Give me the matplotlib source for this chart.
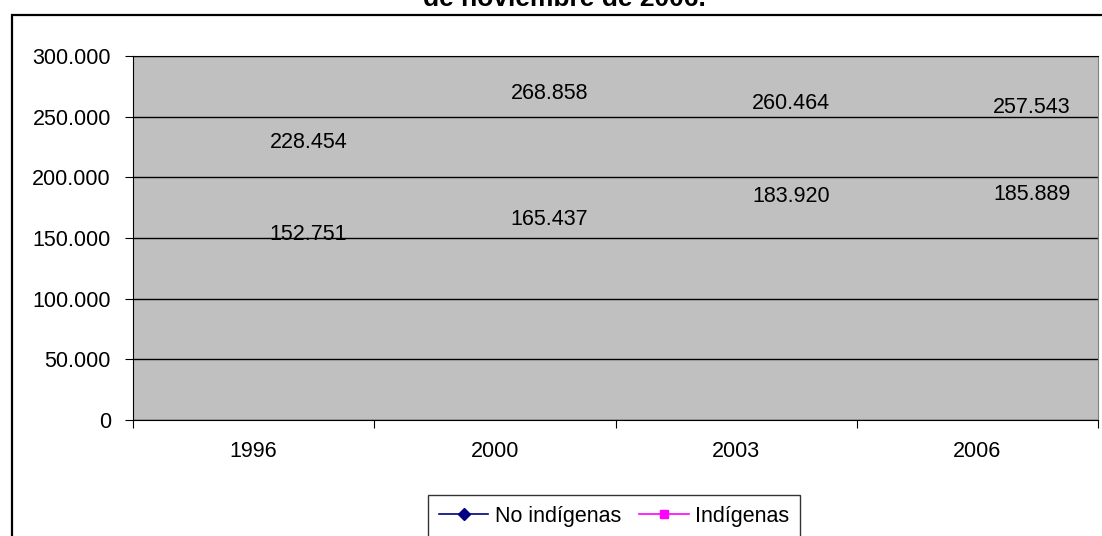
import matplotlib
matplotlib.use("Agg")
import matplotlib.pyplot as plt
from matplotlib.lines import Line2D
from matplotlib.patches import Rectangle

plt.rcParams['font.family'] = ['Liberation Sans', 'DejaVu Sans']

years = ["1996", "2000", "2003", "2006"]
no_indigenas = [228454, 268858, 260464, 257543]
indigenas = [152751, 165437, 183920, 185889]
series_names = ["No indígenas", "Indígenas"]
series_colors = ["#000080", "#FF00FF"]
series_markers = ["D", "s"]

W, H = 1102, 536
fig = plt.figure(figsize=(W / 100, H / 100), dpi=100)

# outer chart frame (runs off the right and bottom edges)
fig.patches.append(Rectangle((12 / W, -0.1), 1.2, 1 - 15 / H + 0.1,
                             transform=fig.transFigure, fill=False,
                             edgecolor="black", linewidth=1.6))

# last line of the title, the rest sits above the frame
fig.text(564 / W, 1 - 6 / H, "de noviembre de 2006.", ha="center", va="baseline",
         fontsize=19, fontweight="bold")

ax = fig.add_axes([133 / W, (H - 420) / H, (1098 - 133) / W, (420 - 56) / H])
ax.set_facecolor("#C0C0C0")

x = list(range(len(years)))
for vals, color, mk in zip([no_indigenas, indigenas], series_colors, series_markers):
    line, = ax.plot(x, vals, color=color, marker=mk)
    line.set_visible(False)
    for xi, v in zip(x, vals):
        ax.annotate(f"{v / 1000:.3f}", xy=(xi, v), xytext=(16, 0),
                    textcoords="offset pixels", ha="left", va="center",
                    fontsize=15.5)

ax.set_xlim(-0.5, len(years) - 0.5)
ax.set_ylim(0, 300000)
ax.set_yticks(range(0, 300001, 50000))
ax.set_yticklabels([f"{v:,.0f}".replace(",", ".") for v in range(0, 300001, 50000)])
ax.yaxis.grid(True, color="black", linewidth=1)
ax.set_axisbelow(True)

ax.set_xticks([i - 0.5 for i in range(len(years) + 1)])
ax.set_xticklabels([])
ax.set_xticks(x, minor=True)
ax.set_xticklabels(years, minor=True)
ax.tick_params(axis="x", which="minor", length=0, pad=15, labelsize=15.5)
ax.tick_params(axis="x", which="major", length=6, color="black")
ax.tick_params(axis="y", length=6, pad=10, labelsize=15.5)

for side in ["left", "bottom", "top"]:
    ax.spines[side].set_color("black")
ax.spines["right"].set_color("#808080")

handles = [Line2D([], [], color=c, marker=m, markersize=6, linewidth=1.2)
           for c, m in zip(series_colors, series_markers)]
leg = fig.legend(handles, series_names, loc="upper left",
                 bbox_to_anchor=(428 / W, 1 - 495 / H), ncol=2,
                 fontsize=15.5, frameon=True, fancybox=False, shadow=False,
                 handlelength=2.3, handletextpad=0.3, columnspacing=0.85,
                 borderpad=0.5, borderaxespad=0)
leg.get_frame().set_edgecolor("black")
leg.get_frame().set_linewidth(1)

fig.savefig("out.png", dpi=100)
